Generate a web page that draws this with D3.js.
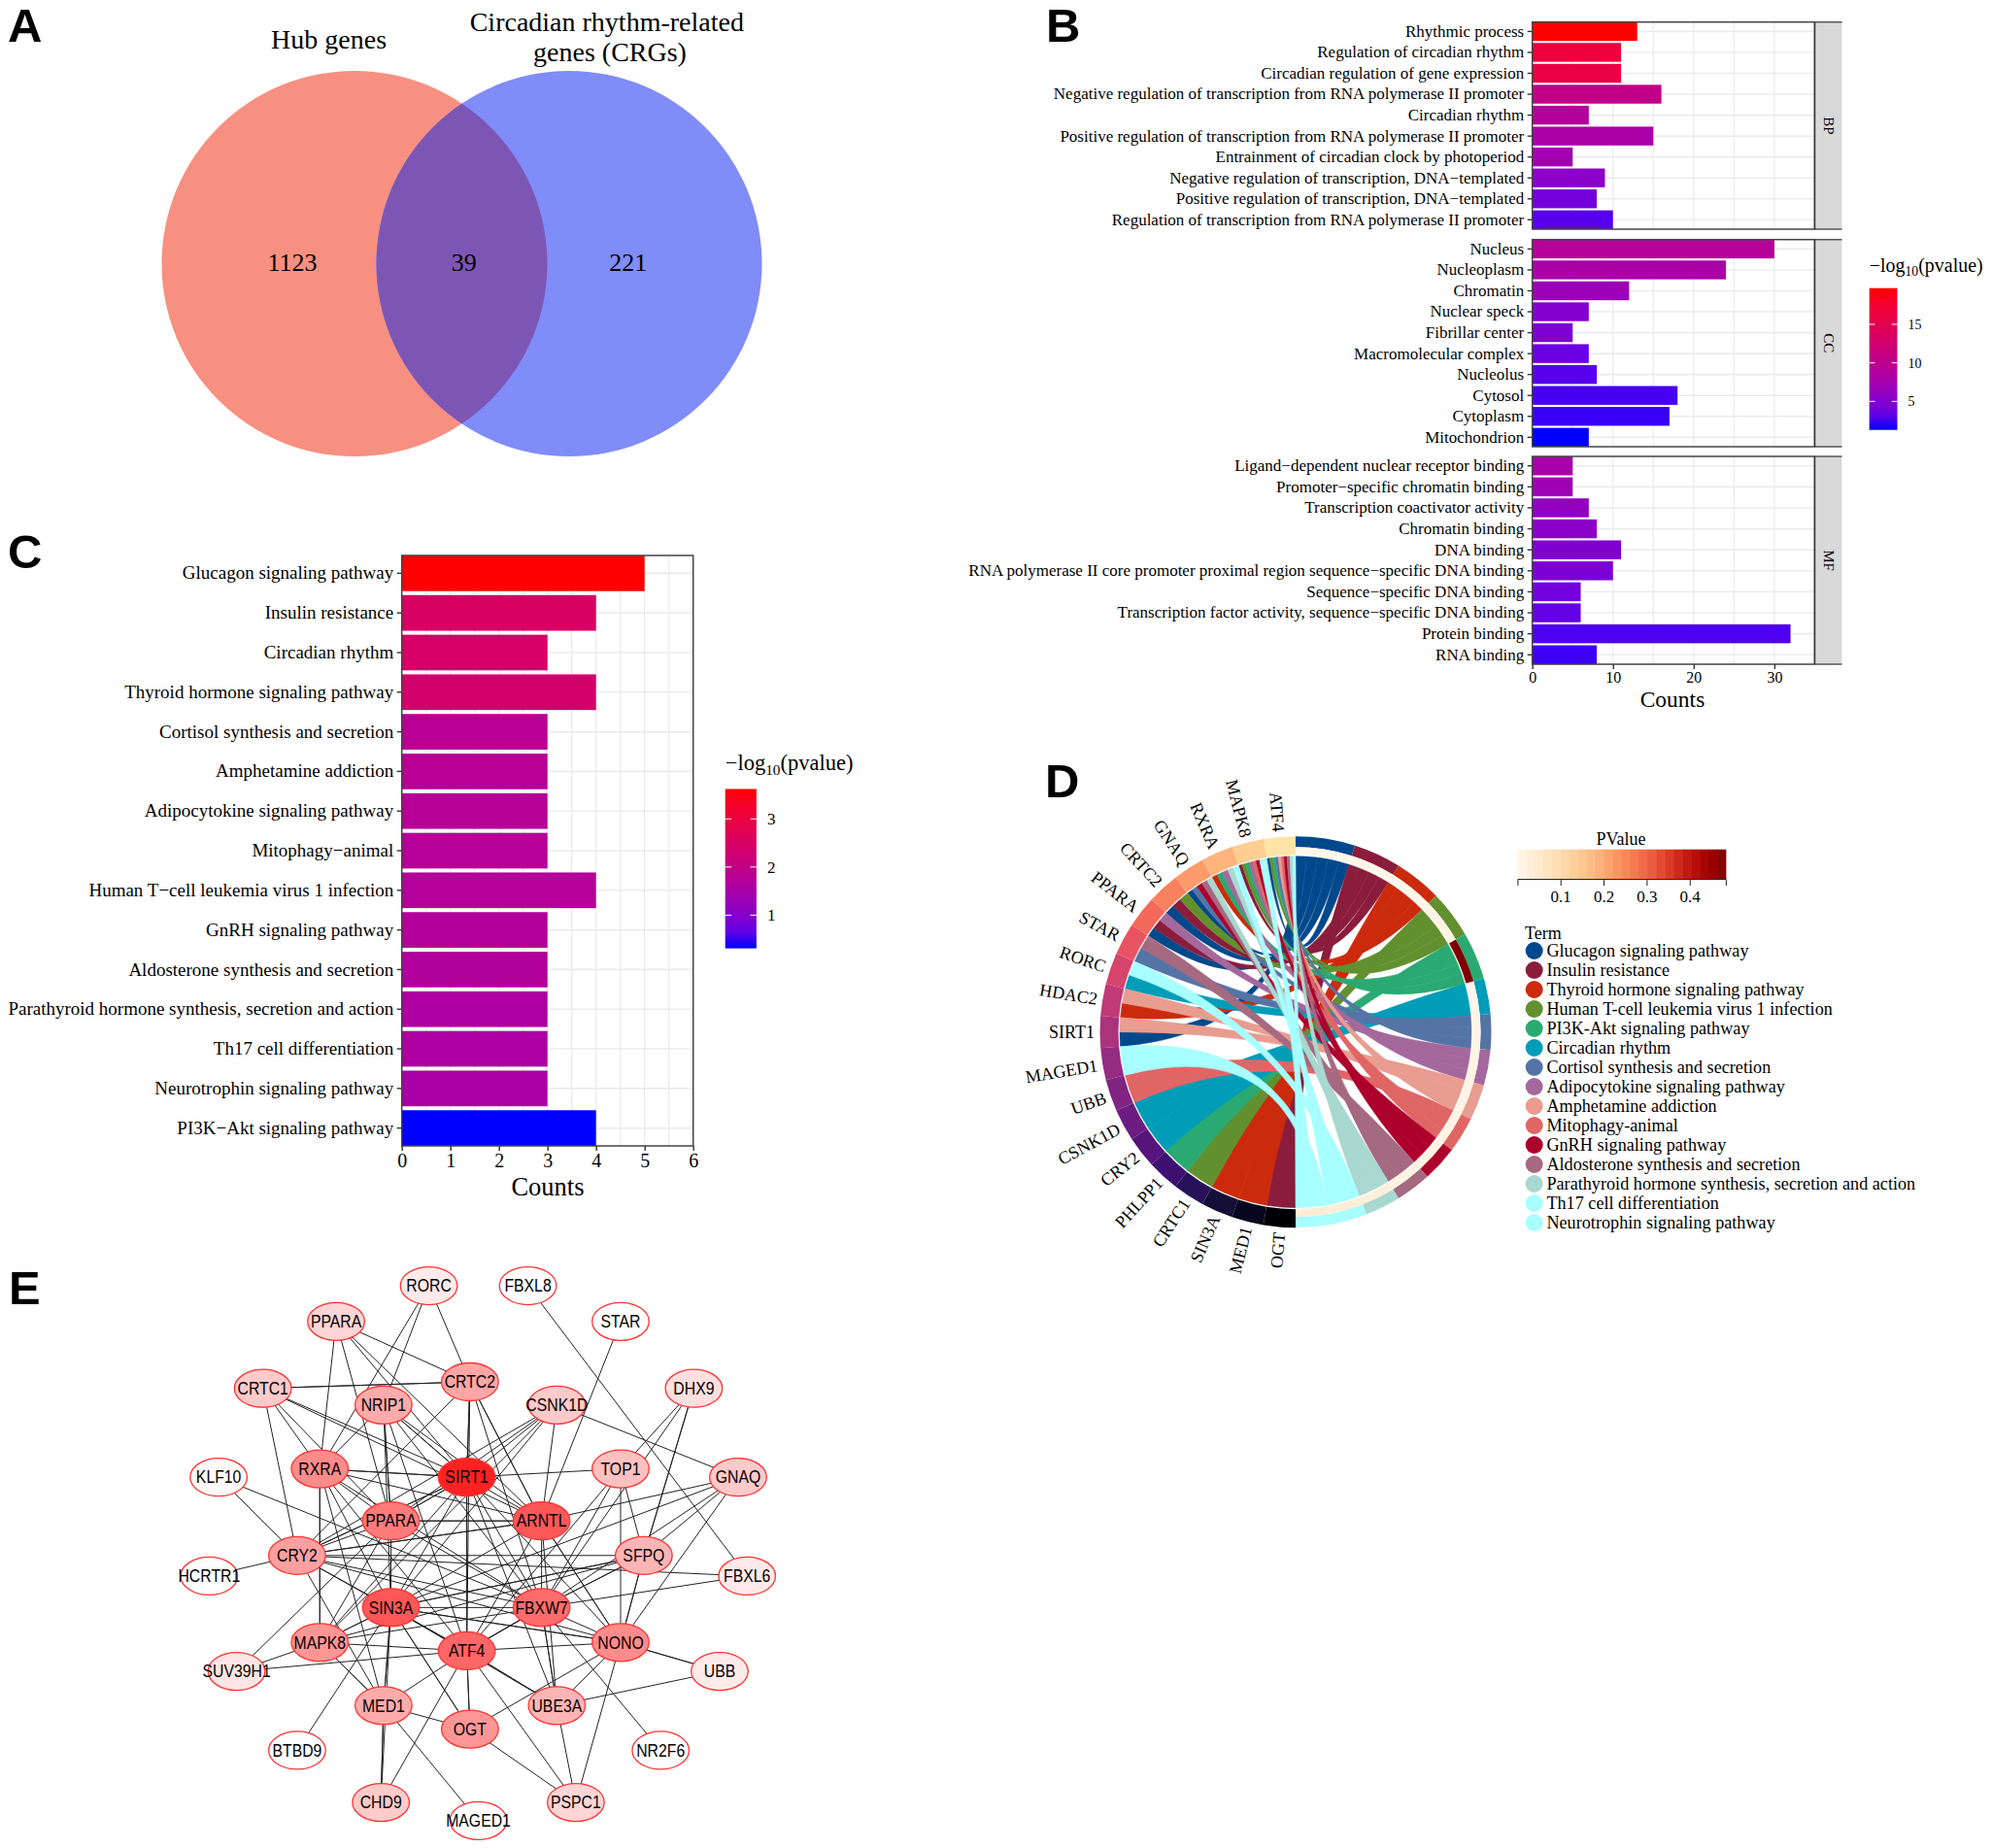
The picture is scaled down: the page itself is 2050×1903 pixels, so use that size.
<!DOCTYPE html>
<html>
<head>
<meta charset="utf-8">
<title>Hub genes and circadian rhythm-related genes</title>
<script src="https://d3js.org/d3.v7.min.js"></script>
<style>
  body { margin: 0; background: #fff; }
  text { font-family: "Liberation Serif", serif; fill: #000; }
  .letter { font-family: "Liberation Sans", sans-serif; font-weight: bold; font-size: 49px; }
  .net text { font-family: "Liberation Sans", sans-serif; font-size: 15.8px; }
</style>
</head>
<body>
<svg id="chart" width="2050" height="1903"></svg>
<script>
// panel A
const vennSets = ["Hub genes", "Circadian rhythm-related genes (CRGs)"];
const vennCounts = [1123, 39, 221];

// panel B
const bpTerms = ["Rhythmic process", "Regulation of circadian rhythm", "Circadian regulation of gene expression",
  "Negative regulation of transcription from RNA polymerase II promoter", "Circadian rhythm",
  "Positive regulation of transcription from RNA polymerase II promoter", "Entrainment of circadian clock by photoperiod",
  "Negative regulation of transcription, DNA−templated", "Positive regulation of transcription, DNA−templated",
  "Regulation of transcription from RNA polymerase II promoter"];
const bpCounts = [13, 11, 11, 16, 7, 15, 5, 9, 8, 10];
const bpLogP = [19.7, 16.5, 16, 10.5, 9, 8, 7.2, 5.5, 4, 2.8];
const ccTerms = ["Nucleus", "Nucleoplasm", "Chromatin", "Nuclear speck", "Fibrillar center", "Macromolecular complex",
  "Nucleolus", "Cytosol", "Cytoplasm", "Mitochondrion"];
const ccCounts = [30, 24, 12, 7, 5, 7, 8, 18, 17, 7];
const ccLogP = [9.3, 8, 6.8, 5, 4.5, 3.6, 2.8, 2.3, 1.9, 1.3];
const mfTerms = ["Ligand−dependent nuclear receptor binding", "Promoter−specific chromatin binding",
  "Transcription coactivator activity", "Chromatin binding", "DNA binding",
  "RNA polymerase II core promoter proximal region sequence−specific DNA binding", "Sequence−specific DNA binding",
  "Transcription factor activity, sequence−specific DNA binding", "Protein binding", "RNA binding"];
const mfCounts = [5, 5, 7, 8, 11, 10, 6, 6, 32, 8];
const mfLogP = [7.8, 7, 6, 5.5, 4.8, 4.4, 3.9, 3.3, 2.5, 2];

// panel C
const keggTerms = ["Glucagon signaling pathway", "Insulin resistance", "Circadian rhythm", "Thyroid hormone signaling pathway",
  "Cortisol synthesis and secretion", "Amphetamine addiction", "Adipocytokine signaling pathway", "Mitophagy−animal",
  "Human T−cell leukemia virus 1 infection", "GnRH signaling pathway", "Aldosterone synthesis and secretion",
  "Parathyroid hormone synthesis, secretion and action", "Th17 cell differentiation", "Neurotrophin signaling pathway",
  "PI3K−Akt signaling pathway"];
const keggCounts = [5, 4, 3, 4, 3, 3, 3, 3, 4, 3, 3, 3, 3, 3, 4];
const keggLogP = [3.62, 2.5, 2.45, 2.4, 1.8, 1.78, 1.76, 1.75, 1.72, 1.7, 1.66, 1.6, 1.58, 1.52, 0.31];

// panel D
const chordTerms = ["Glucagon signaling pathway", "Insulin resistance", "Thyroid hormone signaling pathway",
  "Human T-cell leukemia virus 1 infection", "PI3K-Akt signaling pathway", "Circadian rhythm",
  "Cortisol synthesis and secretion", "Adipocytokine signaling pathway", "Amphetamine addiction", "Mitophagy-animal",
  "GnRH signaling pathway", "Aldosterone synthesis and secretion", "Parathyroid hormone synthesis, secretion and action",
  "Th17 cell differentiation", "Neurotrophin signaling pathway"];
const chordP = [0.001, 0.003, 0.004, 0.014, 0.484, 0.003, 0.011, 0.013, 0.011, 0.013, 0.014, 0.016, 0.03, 0.035, 0.04];
const chordColors = ["#00488c", "#8a1c3c", "#cc2a0c", "#62902f", "#2aaa72", "#009cb8", "#5574a6", "#a5689c",
  "#e99c90", "#e06666", "#ad002c", "#a56a80", "#a9d8d0", "#a8ffff", "#a8ffff"];
const chordGenes = ["ATF4", "MAPK8", "RXRA", "GNAQ", "CRTC2", "PPARA", "STAR", "RORC", "HDAC2", "SIRT1", "MAGED1", "UBB",
  "CSNK1D", "CRY2", "PHLPP1", "CRTC1", "SIN3A", "MED1", "OGT"];
// indexes into chordTerms for each gene (thin ribbons near the top are estimated)
const geneTerms = [
  [0, 3, 4, 6, 8, 9, 10, 11, 12, 14],
  [1, 3, 4, 7, 9, 10, 13, 14],
  [2, 4, 7, 12, 13],
  [0, 6, 10, 11, 12],
  [0, 1, 3],
  [0, 1, 7],
  [6, 11],
  [5, 13],
  [2, 8],
  [0, 8],
  [14],
  [9],
  [5],
  [5],
  [4],
  [3],
  [2],
  [2],
  [1]
];
const pTicks = [0.1, 0.2, 0.3, 0.4];

// panel E, netX and netY are layout units of the network drawing
const netNodes = ["RORC", "FBXL8", "PPARA*", "STAR", "CRTC1", "CRTC2", "NRIP1", "CSNK1D", "DHX9", "RXRA", "SIRT1", "TOP1",
  "GNAQ", "KLF10", "PPARA", "ARNTL", "CRY2", "SFPQ", "HCRTR1", "FBXL6", "SIN3A", "FBXW7", "MAPK8", "NONO", "ATF4",
  "SUV39H1", "UBB", "MED1", "UBE3A", "OGT", "BTBD9", "NR2F6", "CHD9", "PSPC1", "MAGED1"];
const netX = [814, 1002, 638, 1178, 499, 892, 728, 1057, 1317, 607, 886, 1178, 1401, 415, 742, 1028, 564, 1222, 397, 1418,
  742, 1028, 607, 1178, 886, 449, 1366, 728, 1057, 892, 564, 1254, 723, 1093, 908];
const netY = [87, 87, 181, 181, 357, 340, 401, 401, 357, 569, 591, 569, 591, 591, 706, 706, 797, 797, 851, 851,
  934, 934, 1026, 1026, 1048, 1102, 1102, 1192, 1192, 1254, 1310, 1310, 1447, 1447, 1495];
const netDegree = [3, 1, 5, 1, 6, 9.5, 9, 6, 4, 12, 22, 7, 6, 1.5, 13.5, 17, 10, 8, 1, 3,
  17, 15, 11, 12, 15.5, 3.5, 3, 9, 8, 11, 1, 1, 6, 5, 1];
const netEdges = ["RORC-NRIP1", "RORC-RXRA", "RORC-CRTC2", "PPARA*-CRTC2", "PPARA*-RXRA", "PPARA*-PPARA", "PPARA*-SIRT1",
  "PPARA*-ARNTL", "CRTC1-CRTC2", "CRTC1-CRTC2", "CRTC1-RXRA", "CRTC1-CRY2", "CRTC1-SIRT1", "CRTC1-ARNTL", "CRTC1-PPARA",
  "NRIP1-SIRT1", "NRIP1-SIRT1", "NRIP1-RXRA", "NRIP1-PPARA", "NRIP1-PPARA", "NRIP1-ARNTL", "NRIP1-SIN3A", "NRIP1-ATF4",
  "NRIP1-FBXW7", "CRTC2-SIRT1", "CRTC2-SIRT1", "CRTC2-ATF4", "CRTC2-ARNTL", "CRTC2-ARNTL", "CRTC2-CRY2", "CRTC2-FBXW7",
  "CSNK1D-SIRT1", "CSNK1D-PPARA", "CSNK1D-CRY2", "CSNK1D-SIN3A", "CSNK1D-ARNTL", "CSNK1D-GNAQ", "CSNK1D-MAPK8",
  "STAR-ARNTL", "FBXL8-FBXL6", "DHX9-TOP1", "DHX9-SFPQ", "DHX9-SFPQ", "DHX9-FBXW7", "TOP1-SIRT1", "TOP1-SFPQ", "TOP1-NONO",
  "TOP1-FBXW7", "TOP1-ATF4", "GNAQ-ARNTL", "GNAQ-SFPQ", "GNAQ-NONO", "GNAQ-SIN3A", "GNAQ-FBXW7",
  "RXRA-SIRT1", "RXRA-SIRT1", "RXRA-ARNTL", "RXRA-PPARA", "RXRA-MAPK8", "RXRA-MAPK8", "RXRA-SIN3A", "RXRA-ATF4", "RXRA-MED1",
  "RXRA-FBXW7", "SIRT1-ARNTL", "SIRT1-PPARA", "SIRT1-PPARA", "SIRT1-CRY2", "SIRT1-CRY2", "SIRT1-SIN3A", "SIRT1-FBXW7",
  "SIRT1-ATF4", "SIRT1-ATF4", "SIRT1-MAPK8", "SIRT1-NONO", "SIRT1-UBE3A", "KLF10-CRY2", "KLF10-FBXW7",
  "PPARA-ARNTL", "PPARA-ARNTL", "PPARA-CRY2", "PPARA-SIN3A", "PPARA-FBXW7", "PPARA-MAPK8", "PPARA-SUV39H1",
  "ARNTL-CRY2", "ARNTL-CRY2", "ARNTL-NONO", "ARNTL-NONO", "ARNTL-SIN3A", "ARNTL-FBXW7", "ARNTL-ATF4", "ARNTL-UBE3A",
  "CRY2-HCRTR1", "CRY2-FBXL6", "CRY2-SFPQ", "CRY2-SIN3A", "CRY2-FBXW7", "CRY2-ATF4", "CRY2-NONO", "CRY2-MED1",
  "SFPQ-SIN3A", "SFPQ-SIN3A", "SFPQ-FBXW7", "SFPQ-FBXW7", "SFPQ-NONO", "SFPQ-NONO", "SFPQ-MAPK8", "FBXL6-FBXW7",
  "SIN3A-FBXW7", "SIN3A-MAPK8", "SIN3A-MAPK8", "SIN3A-ATF4", "SIN3A-ATF4", "SIN3A-NONO", "SIN3A-NONO", "SIN3A-MED1", "SIN3A-MED1",
  "SIN3A-OGT", "SIN3A-OGT", "SIN3A-BTBD9", "SIN3A-UBE3A", "SIN3A-CHD9", "FBXW7-ATF4", "FBXW7-ATF4", "FBXW7-ATF4", "FBXW7-NONO",
  "FBXW7-UBE3A", "FBXW7-UBE3A", "FBXW7-NR2F6", "FBXW7-MAPK8", "MAPK8-SUV39H1", "MAPK8-MED1", "MAPK8-MED1", "MAPK8-ATF4",
  "NONO-ATF4", "NONO-UBB", "NONO-UBB", "NONO-UBE3A", "NONO-OGT", "NONO-PSPC1", "ATF4-SUV39H1", "ATF4-MED1", "ATF4-OGT", "ATF4-OGT",
  "ATF4-UBE3A", "ATF4-UBE3A", "ATF4-CHD9", "ATF4-PSPC1", "UBB-UBE3A", "MED1-OGT", "MED1-CHD9", "MED1-CHD9", "MED1-MAGED1",
  "OGT-PSPC1", "UBE3A-PSPC1"];

const svg = d3.select("#chart");
const letters = [["A", 8, 43], ["B", 1077, 43], ["C", 8, 585], ["D", 1076, 821], ["E", 9, 1343]];
svg.selectAll("text.letter").data(letters).join("text").attr("class", "letter")
  .attr("x", d => d[1]).attr("y", d => d[2]).text(d => d[0]);

const blueRed = d3.interpolateLab("#0000ff", "#ff0000");

// ---- A: venn
function drawVenn() {
  const g = svg.append("g");
  const x = d3.scaleLinear().domain([0, 1]).range([365, 586]);
  g.append("clipPath").attr("id", "hubClip").append("circle").attr("cx", x(0)).attr("cy", 271.5).attr("r", 198.5);
  g.append("circle").attr("cx", x(0)).attr("cy", 271.5).attr("r", 198.5).attr("fill", "#f79080");
  g.append("circle").attr("cx", x(1)).attr("cy", 271.5).attr("r", 198.5).attr("fill", "#808cf8");
  g.append("circle").attr("cx", x(1)).attr("cy", 271.5).attr("r", 198.5).attr("fill", "#7d56b5").attr("clip-path", "url(#hubClip)");
  const numX = [301, 477.8, 646.8];
  g.selectAll("text.num").data(vennCounts).join("text").attr("class", "num")
    .attr("x", (d, i) => numX[i]).attr("y", 279).attr("text-anchor", "middle").style("font-size", "26px").text(d => d);
  g.append("text").attr("x", 338.6).attr("y", 50).attr("text-anchor", "middle").style("font-size", "28px").text(vennSets[0]);
  g.append("text").attr("x", 624.8).attr("y", 32).attr("text-anchor", "middle").style("font-size", "28px").text("Circadian rhythm-related");
  g.append("text").attr("x", 628).attr("y", 63).attr("text-anchor", "middle").style("font-size", "28px").text("genes (CRGs)");
}

// ---- shared bar panel, horizontal bars with a ggplot look
function barPanel(o) {
  const g = svg.append("g");
  const x = d3.scaleLinear().domain(o.xDomain).range([o.left, o.right]);
  const y = d3.scaleBand().domain(o.terms).range([o.top, o.bottom]).paddingInner(0.1).paddingOuter(0);
  const grid = g.append("g").attr("stroke", "#ececec");
  grid.selectAll("line.v").data(o.gridX).join("line").attr("class", "v")
    .attr("x1", d => x(d)).attr("x2", d => x(d)).attr("y1", o.top).attr("y2", o.bottom).attr("stroke-width", 1.3);
  grid.selectAll("line.h").data(o.terms).join("line").attr("class", "h")
    .attr("x1", o.left).attr("x2", o.right).attr("y1", d => y(d) + y.bandwidth() / 2).attr("y2", d => y(d) + y.bandwidth() / 2).attr("stroke-width", 1.6);
  g.selectAll("rect.bar").data(o.terms).join("rect").attr("class", "bar")
    .attr("x", o.left).attr("y", d => y(d)).attr("height", y.bandwidth())
    .attr("width", (d, i) => x(o.counts[i]) - o.left)
    .attr("fill", (d, i) => blueRed(o.color(o.logP[i])));
  const yAxis = d3.axisLeft(y).tickSize(5).tickPadding(3.5);
  const ya = g.append("g").attr("transform", `translate(${o.left},0)`).call(yAxis);
  ya.select(".domain").remove();
  ya.selectAll("line").attr("stroke", "#333").attr("stroke-width", 1.4);
  ya.selectAll("text").style("font-size", o.fontSize + "px");
  g.append("rect").attr("x", o.left).attr("y", o.top).attr("width", o.right - o.left).attr("height", o.bottom - o.top)
    .attr("fill", "none").attr("stroke", "#444").attr("stroke-width", 1.5);
  return { g, x, y };
}

function xAxisUnder(p, bottom, ticks, size) {
  const xa = p.g.append("g").attr("transform", `translate(0,${bottom})`)
    .call(d3.axisBottom(p.x).tickValues(ticks).tickSize(5).tickPadding(3).tickFormat(d3.format("d")));
  xa.select(".domain").remove();
  xa.selectAll("line").attr("stroke", "#333").attr("stroke-width", 1.4);
  xa.selectAll("text").style("font-size", size + "px");
}

function colorBar(o) {
  const g = svg.append("g");
  const y = d3.scaleLinear().domain(o.domain).range([o.bottom, o.top]);
  const id = "grad" + o.id;
  const grad = svg.append("defs").append("linearGradient").attr("id", id).attr("x1", 0).attr("x2", 0).attr("y1", 1).attr("y2", 0);
  grad.selectAll("stop").data(d3.range(0, 1.01, 0.1)).join("stop")
    .attr("offset", d => d).attr("stop-color", d => blueRed(d));
  g.append("rect").attr("x", o.x).attr("y", o.top).attr("width", o.w).attr("height", o.bottom - o.top).attr("fill", `url(#${id})`);
  const tickLen = o.w / 5;
  g.selectAll("line.a").data(o.ticks).join("line").attr("class", "a").attr("stroke", "#fff")
    .attr("x1", o.x).attr("x2", o.x + tickLen).attr("y1", d => y(d)).attr("y2", d => y(d));
  g.selectAll("line.b").data(o.ticks).join("line").attr("class", "b").attr("stroke", "#fff")
    .attr("x1", o.x + o.w - tickLen).attr("x2", o.x + o.w).attr("y1", d => y(d)).attr("y2", d => y(d));
  g.selectAll("text.t").data(o.ticks).join("text").attr("class", "t")
    .attr("x", o.x + o.w + 11).attr("y", d => y(d)).attr("dy", "0.35em").style("font-size", o.tickSize + "px").text(d => d);
  const title = g.append("text").attr("x", o.x).attr("y", o.titleY).style("font-size", o.titleSize + "px");
  title.append("tspan").text("−log");
  title.append("tspan").attr("dy", o.titleSize * 0.22).style("font-size", o.titleSize * 0.68 + "px").text("10");
  title.append("tspan").attr("dy", -o.titleSize * 0.22).text("(pvalue)");
}

// ---- B: three faceted panels
function drawGo() {
  const bColor = d3.scaleLinear().domain([1.3, 19.7]).range([0, 1]);
  const rows = [
    { terms: bpTerms, counts: bpCounts, logP: bpLogP, top: 22.7, bottom: 236, name: "BP" },
    { terms: ccTerms, counts: ccCounts, logP: ccLogP, top: 246.7, bottom: 460, name: "CC" },
    { terms: mfTerms, counts: mfCounts, logP: mfLogP, top: 470, bottom: 684, name: "MF" }
  ];
  let last;
  rows.forEach(r => {
    last = barPanel({ ...r, left: 1577.7, right: 1868.5, xDomain: [0, 35], gridX: d3.range(0, 35, 5), color: bColor, fontSize: 17 });
    last.g.append("rect").attr("x", 1868.5).attr("y", r.top).attr("width", 28).attr("height", r.bottom - r.top).attr("fill", "#d9d9d9");
    last.g.selectAll("line.edge").data([r.top, r.bottom]).join("line").attr("class", "edge")
      .attr("x1", 1868.5).attr("x2", 1896.5).attr("y1", d => d).attr("y2", d => d).attr("stroke", "#555").attr("stroke-width", 1.5);
    last.g.append("line").attr("x1", 1868.5).attr("x2", 1868.5).attr("y1", r.top).attr("y2", r.bottom).attr("stroke", "#333").attr("stroke-width", 1.5);
    last.g.append("text").attr("text-anchor", "middle").style("font-size", "15px")
      .attr("transform", `translate(1883,${(r.top + r.bottom) / 2}) rotate(90)`).attr("dy", "0.35em").text(r.name);
  });
  xAxisUnder(last, 684, [0, 10, 20, 30], 16);
  svg.append("text").attr("x", 1722).attr("y", 728).attr("text-anchor", "middle").style("font-size", "23.5px").text("Counts");
  colorBar({ id: "B", domain: [1.3, 19.7], x: 1924.7, w: 28.8, top: 296.7, bottom: 442.7, ticks: [5, 10, 15], tickSize: 14, titleY: 280, titleSize: 20 });
}

// ---- C
function drawKegg() {
  const cColor = d3.scaleLinear().domain([0.31, 3.62]).range([0, 1]);
  const p = barPanel({ terms: keggTerms, counts: keggCounts, logP: keggLogP, left: 413.7, right: 713.7, top: 572, bottom: 1180,
    xDomain: [0, 6], gridX: d3.range(0, 6.5, 0.5), color: cColor, fontSize: 19 });
  xAxisUnder(p, 1180, d3.range(0, 7), 20);
  svg.append("text").attr("x", 564).attr("y", 1231).attr("text-anchor", "middle").style("font-size", "26.5px").text("Counts");
  colorBar({ id: "C", domain: [0.31, 3.62], x: 746.7, w: 32.2, top: 812.5, bottom: 976.6, ticks: [1, 2, 3], tickSize: 17, titleY: 793, titleSize: 22.5 });
}

// ---- D: chord
function drawChord() {
  const g = svg.append("g").attr("transform", "translate(1334,1062.7)");
  const rOuter = 201.5, rMid = 190.5, rInner = 182.5, rRibbon = 181;
  const termSizes = chordTerms.map((t, i) => d3.sum(geneTerms, l => l.includes(i) ? 1 : 0));
  const total = d3.sum(termSizes);
  const unit = Math.PI / total;
  const termStart = [0, ...d3.cumsum(termSizes)].map(d => d * unit);
  const geneScale = d3.scaleBand().domain(chordGenes).range([0, Math.PI]);
  const geneColor = d3.scaleSequential(d3.interpolateMagma).domain([chordGenes.length - 1, -1]);
  const pColor = d3.scaleSequential(d3.interpolateOrRd).domain([0, 0.4838]);
  const arc = d3.arc();

  // ribbon ends: a term is filled from the last gene up, a gene from its last term down
  const ribbons = [];
  const used = chordTerms.map(() => 0);
  d3.range(geneTerms.length - 1, -1, -1).forEach(gi => {
    const list = geneTerms[gi];
    const step = geneScale.bandwidth() / list.length;
    const sorted = list.slice().sort((a, b) => b - a);
    sorted.forEach((ti, k) => {
      const a0 = -(geneScale(chordGenes[gi]) + k * step);
      const t0 = termStart[ti] + used[ti] * unit;
      used[ti] += 1;
      ribbons.push({ ti, source: { startAngle: a0 - step, endAngle: a0 }, target: { startAngle: t0, endAngle: t0 + unit } });
    });
  });
  ribbons.sort((a, b) => a.ti - b.ti);
  const ribbon = d3.ribbon().radius(rRibbon);
  g.selectAll("path.rib").data(ribbons).join("path").attr("class", "rib")
    .attr("d", ribbon).attr("fill", d => chordColors[d.ti])
    .attr("stroke", d => chordColors[d.ti]).attr("stroke-width", 0.5);

  g.selectAll("path.term").data(chordTerms).join("path").attr("class", "term")
    .attr("d", (d, i) => arc({ innerRadius: rMid, outerRadius: rOuter, startAngle: termStart[i], endAngle: termStart[i + 1] }))
    .attr("fill", (d, i) => chordColors[i]);
  g.selectAll("path.pv").data(chordTerms).join("path").attr("class", "pv")
    .attr("d", (d, i) => arc({ innerRadius: rInner, outerRadius: rMid, startAngle: termStart[i], endAngle: termStart[i + 1] }))
    .attr("fill", (d, i) => pColor(chordP[i]));
  g.selectAll("path.gene").data(chordGenes).join("path").attr("class", "gene")
    .attr("d", d => arc({ innerRadius: rInner, outerRadius: rOuter, startAngle: -geneScale(d) - geneScale.bandwidth(), endAngle: -geneScale(d) }))
    .attr("fill", (d, i) => geneColor(i));
  g.selectAll("text.gene").data(chordGenes).join("text").attr("class", "gene")
    .attr("transform", d => {
      const a = geneScale(d) + geneScale.bandwidth() / 2;
      const px = -Math.sin(a) * 207, py = -Math.cos(a) * 207;
      return `translate(${px},${py}) rotate(${Math.atan2(-py, -px) * 180 / Math.PI})`;
    })
    .attr("text-anchor", "end").attr("dy", "0.35em").style("font-size", "18px").text(d => d);

  // pvalue bar
  const bar = svg.append("g");
  const px = d3.scaleLinear().domain([0, 0.4838]).range([1562.4, 1776.9]);
  const blocks = d3.range(0, 0.4838, 0.4838 / 24);
  bar.selectAll("rect").data(blocks).join("rect")
    .attr("x", d => px(d)).attr("y", 874.7).attr("height", 30.3).attr("width", px(0.4838 / 24) - px(0) + 0.5)
    .attr("fill", d => pColor(d + 0.01));
  const pa = bar.append("g").attr("transform", "translate(0,905)")
    .call(d3.axisBottom(px).tickValues(pTicks).tickSize(7).tickPadding(5).tickFormat(d3.format(".1f")));
  pa.select(".domain").attr("stroke", "#222");
  pa.selectAll("line").attr("stroke", "#222");
  pa.selectAll("text").style("font-size", "17px");
  bar.append("text").attr("x", 1669).attr("y", 870).attr("text-anchor", "middle").style("font-size", "18px").text("PValue");

  // legend
  const ly = d3.scaleLinear().domain([0, 14]).range([979, 1259]);
  svg.append("text").attr("x", 1570).attr("y", 967).style("font-size", "18px").text("Term");
  const lg = svg.selectAll("g.leg").data(chordTerms).join("g").attr("class", "leg")
    .attr("transform", (d, i) => `translate(1579.7,${ly(i)})`);
  lg.append("circle").attr("r", 9).attr("fill", (d, i) => chordColors[i]);
  lg.append("text").attr("x", 12.7).attr("dy", "0.35em").style("font-size", "18.2px").text(d => d);
}

// ---- E: network
function drawNet() {
  const g = svg.append("g").attr("class", "net");
  const x = d3.scaleLinear().domain([0, 1567]).range([0, 850]);
  const y = d3.scaleLinear().domain([0, 1567]).range([1290, 1903]);
  const fill = d3.scaleLinear().domain([1, 22]).range(["#ffffff", "#ff2222"]);
  const at = id => netNodes.indexOf(id);
  g.selectAll("line").data(netEdges).join("line")
    .attr("x1", d => x(netX[at(d.split("-")[0])])).attr("y1", d => y(netY[at(d.split("-")[0])]))
    .attr("x2", d => x(netX[at(d.split("-")[1])])).attr("y2", d => y(netY[at(d.split("-")[1])]))
    .attr("stroke", "#222").attr("stroke-width", 1);
  const n = g.selectAll("g").data(netNodes).join("g")
    .attr("transform", (d, i) => `translate(${x(netX[i])},${y(netY[i])})`);
  n.append("ellipse").attr("rx", 29.3).attr("ry", 19.5)
    .attr("fill", (d, i) => fill(netDegree[i])).attr("stroke", "#ff3333").attr("stroke-width", 1.3);
  // labels in the picture are a little taller than wide
  n.append("text").attr("text-anchor", "middle").attr("dy", "0.35em").attr("transform", "scale(1,1.12)").text(d => d.replace("*", ""));
}

drawVenn();
drawGo();
drawKegg();
drawChord();
drawNet();
</script>
</body>
</html>
